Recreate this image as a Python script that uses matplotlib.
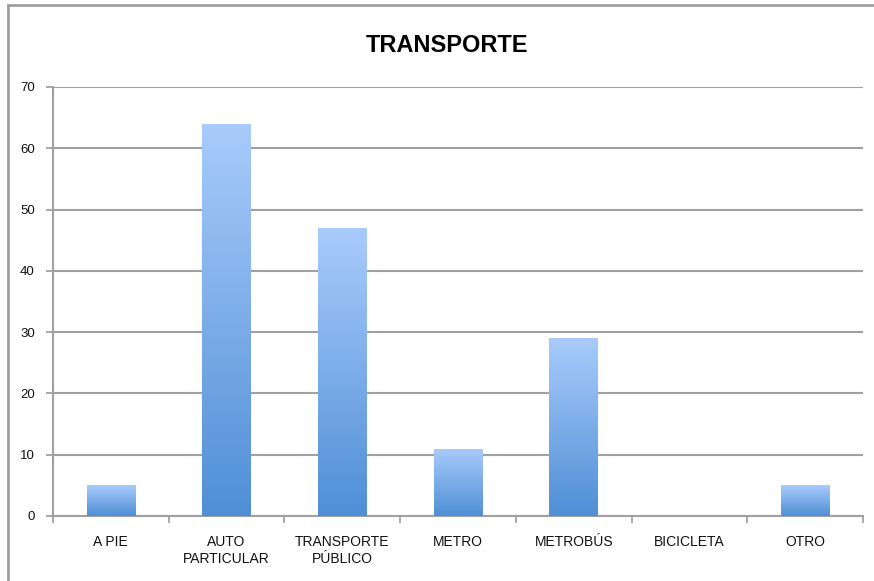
import matplotlib
matplotlib.use("Agg")
import matplotlib.pyplot as plt
import numpy as np
from matplotlib.lines import Line2D
from matplotlib.colors import LinearSegmentedColormap
from matplotlib import font_manager

categories = ["A PIE", "AUTO\nPARTICULAR", "TRANSPORTE\nPÚBLICO", "METRO", "METROBÚS", "BICICLETA", "OTRO"]
values = [5, 64, 47, 11, 29, 0, 5]
yticks = [0, 10, 20, 30, 40, 50, 60, 70]
title = "TRANSPORTE"

names = {f.name for f in font_manager.fontManager.ttflist}
fam = ["Liberation Sans Narrow", "DejaVu Sans"] if "Liberation Sans Narrow" in names else ["Liberation Sans", "DejaVu Sans"]
plt.rcParams["font.family"] = fam

fig = plt.figure(figsize=(8.74, 5.81), dpi=100)
ax = fig.add_axes([0.0606, 0.1119, 0.9268, 0.7384])

x = np.arange(len(categories))
bars = ax.bar(x, values, width=0.42, color="none", edgecolor="none", zorder=3)

cmap = LinearSegmentedColormap.from_list("g", ["#4f8fd6", "#a9cbfb"])
grad = np.linspace(0, 1, 256).reshape(-1, 1)
for b in bars:
    h = b.get_height()
    if h <= 0:
        continue
    x0 = b.get_x()
    w = b.get_width()
    im = ax.imshow(grad, extent=[x0, x0 + w, 0, h], origin="lower", cmap=cmap,
                   aspect="auto", zorder=3)
    im.set_clip_path(b)

ax.set_xlim(-0.5, len(categories) - 0.5)
ax.set_ylim(0, 70)
ax.set_yticks(yticks)
ax.set_yticklabels([str(v) for v in yticks], fontsize=9.5, color="#111111")
ax.set_xticks(np.arange(len(categories) + 1) - 0.5)
ax.set_xticklabels([])
ax.set_xticks(x, minor=True)
ax.set_xticklabels(categories, minor=True, fontsize=10, color="#111111")
ax.tick_params(axis="x", which="minor", length=0, pad=14)
ax.tick_params(axis="x", which="major", length=5, color="#999999", width=1.2)
ax.tick_params(axis="y", length=5, color="#999999", width=1.2, pad=8)
ax.grid(axis="y", color="#a0a0a0", linewidth=1.5, zorder=0)
ax.set_axisbelow(True)
for s in ["top", "right"]:
    ax.spines[s].set_visible(False)
for s in ["left", "bottom"]:
    ax.spines[s].set_color("#a0a0a0")
    ax.spines[s].set_linewidth(1.5)

fig.text(0.512, 0.922, title, ha="center", va="center", fontsize=17, fontweight="bold")

# outer frame: top and left edges only
fig.add_artist(Line2D([0.009, 1.0], [0.991, 0.991], transform=fig.transFigure,
                      color="#a0a0a0", linewidth=2))
fig.add_artist(Line2D([0.009, 0.009], [0.0, 0.991], transform=fig.transFigure,
                      color="#a0a0a0", linewidth=2))

fig.savefig("out.png", dpi=100)
